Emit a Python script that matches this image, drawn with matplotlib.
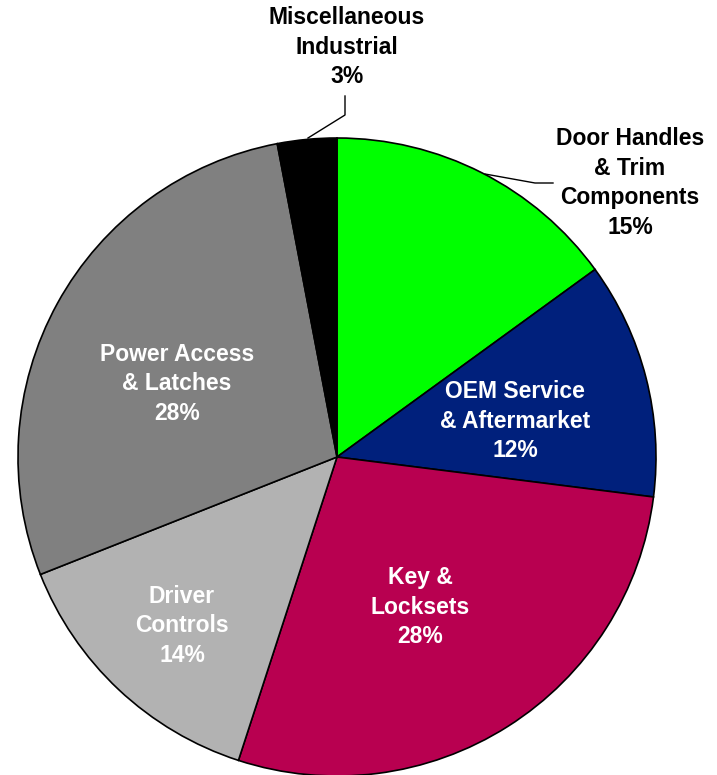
import matplotlib.pyplot as plt

labels = ["Door Handles\n& Trim\nComponents", "OEM Service\n& Aftermarket", "Key &\nLocksets",
          "Driver\nControls", "Power Access\n& Latches", "Miscellaneous\nIndustrial"]
shares = [15, 12, 28, 14, 28, 3]
colors = ["#00FF00", "#00207C", "#B80050", "#B2B2B2", "#808080", "#000000"]
text_colors = ["black", "white", "white", "white", "white", "black"]

W, H = 717, 775
fig = plt.figure(figsize=(W / 100, H / 100), dpi=100)
ax = fig.add_axes([0, 0, 1, 1])

cx, cy, r = 337, H - 457, 319
ax.pie(shares, colors=colors, startangle=90, counterclock=False, center=(cx, cy), radius=r,
       wedgeprops=dict(edgecolor="black", linewidth=1.2), frame=True)
ax.set_xlim(0, W)
ax.set_ylim(0, H)
ax.set_aspect("equal")
ax.axis("off")

# label centres in pixel coords
pos = [(630, 183), (515, 421), (420, 607), (182, 626), (177, 384), (347, 47)]
for lab, s, tc, (x, y) in zip(labels, shares, text_colors, pos):
    ax.text(x, H - y, f"{lab}\n{s}%", ha="center", va="center", color=tc,
            fontsize=16.5, fontweight="bold", family="Liberation Sans", linespacing=1.38)

# leader lines
ax.plot([345, 345, 308], [H - 96, H - 115, H - 138], color="black", lw=1)
ax.plot([485, 535, 553], [H - 174, H - 183, H - 183], color="black", lw=1)

fig.savefig("out.png", dpi=100)
